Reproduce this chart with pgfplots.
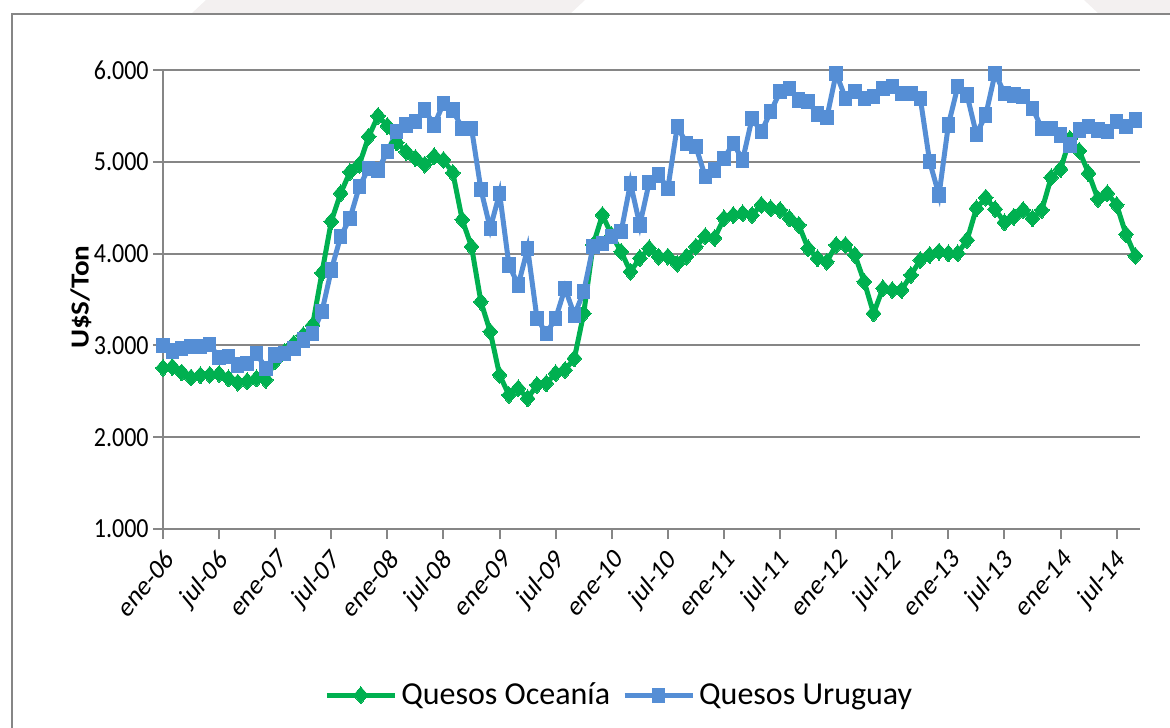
\documentclass[border=0pt]{standalone}
\usepackage{graphicx}
\usepackage{pgfplots}
\pgfplotsset{compat=1.18}
\usepackage{fontspec}
\setmainfont{Carlito}
\definecolor{ocgreen}{RGB}{0,176,80}
\definecolor{uyblue}{RGB}{85,142,213}
\definecolor{gridgray}{RGB}{134,134,134}
\definecolor{wm}{RGB}{243,240,240}
\newcommand{\xl}[1]{\scalebox{1}[1.2]{\rotatebox{45}{#1}}}
\newcommand{\yl}[1]{\scalebox{1}[1.15]{#1}}
\begin{document}
\begin{tikzpicture}
\fill[wm] (95.5pt,-7pt) -- (103pt,0pt) -- (292.5pt,0pt) -- (285pt,-7pt) -- cycle;
\fill[wm] (549.5pt,-7pt) -- (542pt,0pt) -- (590pt,0pt) -- (590pt,-7pt) -- cycle;
\draw[gridgray, line width=1pt] (6pt,-370pt) -- (6pt,-7pt) -- (590pt,-7pt);
\begin{axis}[
  at={(81.5pt,-264.5pt)}, anchor=south west,
  scale only axis, width=488.5pt, height=229.5pt,
  xmin=0, xmax=104.5, ymin=1000, ymax=6000,
  axis x line=bottom, axis y line=left,
  axis line style={gridgray, line width=1pt, -},
  ymajorgrids, grid style={gridgray, line width=1pt},
  tick style={gridgray, line width=1pt},
  tick align=outside, major tick length=5pt,
  xtick={0,6,...,102},
  xticklabels={\xl{ene-06},\xl{jul-06},\xl{ene-07},\xl{jul-07},\xl{ene-08},\xl{jul-08},\xl{ene-09},\xl{jul-09},\xl{ene-10},\xl{jul-10},\xl{ene-11},\xl{jul-11},\xl{ene-12},\xl{jul-12},\xl{ene-13},\xl{jul-13},\xl{ene-14},\xl{jul-14}},
  xticklabel style={anchor=north east, font=\fontsize{12}{14}\selectfont, inner sep=0pt, xshift=6.5pt, yshift=-4pt},
  ytick={1000,2000,3000,4000,5000,6000},
  yticklabels={\yl{1.000},\yl{2.000},\yl{3.000},\yl{4.000},\yl{5.000},\yl{6.000}},
  yticklabel style={font=\fontsize{12}{14}\selectfont, anchor=east, inner sep=2pt},
  ylabel={\scalebox{1.12}[1]{U\$S/Ton}},
  ylabel style={font=\bfseries\fontsize{13}{15}\selectfont, at={(axis description cs:-0.084,0.505)}, anchor=center, rotate=0},
  legend columns=2,
  legend style={at={(0.468,-0.362)}, anchor=center, draw=none, font=\fontsize{16}{18}\selectfont,
    inner sep=1pt,
    /tikz/every even column/.append style={column sep=4pt}},
  legend image code/.code={\draw[mark repeat=2,mark phase=2,#1] plot coordinates {(0pt,0pt) (17pt,0pt) (34pt,0pt)};},
]
\addplot[ocgreen, line width=2.5pt, mark=square*, mark size=2.6pt, mark options={yscale=1.15, rotate=45, solid, line width=0pt}] coordinates {
(0,2755)(1,2765)(2,2705)(3,2650)(4,2675)(5,2680)(6,2690)(7,2640)(8,2595)(9,2610)(10,2640)(11,2625)(12,2830)(13,2930)(14,3020)(15,3110)(16,3220)(17,3790)(18,4350)(19,4657)(20,4890)(21,4970)(22,5275)(23,5500)(24,5390)(25,5210)(26,5110)(27,5040)(28,4970)(29,5060)(30,5020)(31,4880)(32,4370)(33,4076)(34,3476)(35,3150)(36,2678)(37,2460)(38,2532)(39,2423)(40,2569)(41,2587)(42,2696)(43,2732)(44,2859)(45,3349)(46,4094)(47,4420)(48,4200)(49,4021)(50,3803)(51,3950)(52,4057)(53,3967)(54,3967)(55,3890)(56,3967)(57,4076)(58,4190)(59,4170)(60,4384)(61,4420)(62,4439)(63,4420)(64,4530)(65,4493)(66,4475)(67,4384)(68,4312)(69,4057)(70,3950)(71,3912)(72,4094)(73,4094)(74,3985)(75,3694)(76,3349)(77,3622)(78,3603)(79,3603)(80,3767)(81,3930)(82,3985)(83,4021)(84,4003)(85,4003)(86,4148)(87,4493)(88,4610)(89,4485)(90,4340)(91,4400)(92,4475)(93,4385)(94,4475)(95,4830)(96,4920)(97,5250)(98,5120)(99,4875)(100,4595)(101,4657)(102,4530)(103,4210)(104,3975)
};
\addlegendentry{Quesos Oceanía}
\addplot[uyblue, line width=2.5pt, mark=square*, mark size=3.1pt, mark options={yscale=1.15, solid, line width=0pt}] coordinates {
(0,2995)(1,2940)(2,2970)(3,2985)(4,2987)(5,3010)(6,2865)(7,2878)(8,2787)(9,2805)(10,2912)(11,2752)(12,2896)(13,2915)(14,2970)(15,3060)(16,3132)(17,3368)(18,3822)(19,4185)(20,4385)(21,4730)(22,4930)(23,4911)(24,5111)(25,5328)(26,5400)(27,5437)(28,5564)(29,5400)(30,5637)(31,5564)(32,5365)(33,5365)(34,4700)(35,4275)(36,4657)(37,3876)(38,3658)(39,4057)(40,3295)(41,3131)(42,3295)(43,3622)(44,3331)(45,3585)(46,4076)(47,4112)(48,4185)(49,4239)(50,4766)(51,4312)(52,4775)(53,4857)(54,4711)(55,5383)(56,5201)(57,5165)(58,4838)(59,4911)(60,5038)(61,5201)(62,5020)(63,5473)(64,5328)(65,5546)(66,5764)(67,5800)(68,5673)(69,5655)(70,5520)(71,5480)(72,5964)(73,5691)(74,5764)(75,5691)(76,5709)(77,5800)(78,5818)(79,5746)(80,5746)(81,5691)(82,5001)(83,4638)(84,5401)(85,5818)(86,5727)(87,5300)(88,5510)(89,5964)(90,5746)(91,5727)(92,5709)(93,5582)(94,5365)(95,5365)(96,5292)(97,5183)(98,5346)(99,5383)(100,5346)(101,5328)(102,5437)(103,5383)(104,5455)
};
\addlegendentry{Quesos Uruguay}
\end{axis}
\pgfresetboundingbox
\path[use as bounding box] (0,0) rectangle (585pt,-363.5pt);
\end{tikzpicture}
\end{document}
